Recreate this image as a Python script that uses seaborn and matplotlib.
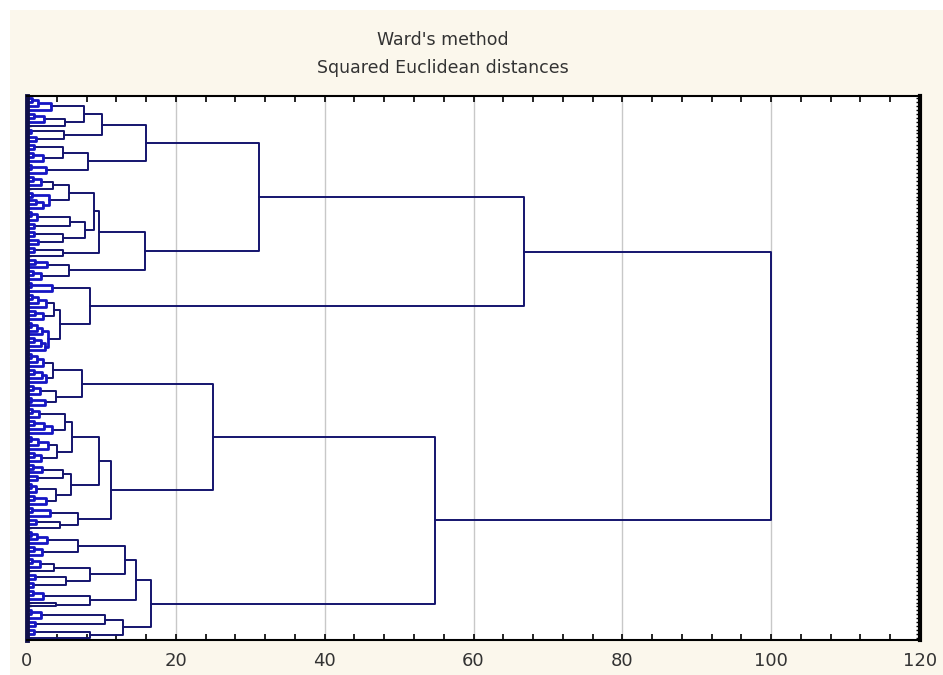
import pandas as pd
import matplotlib
matplotlib.use('Agg')
import matplotlib.pyplot as plt
from matplotlib.patches import Rectangle
import seaborn as sns

# merge heights (Ward, squared euclidean)
# a tuple is (height, upper branch, lower branch)
# a list is a small run of leaves, one merge height per extra leaf
a1 = (16.0,
      (10.1, (7.7, [0.7, 1.5, 3.2], [0.9, 2.3, 5.1]), (5.0, [0.6], [1.2])),
      (8.2, (4.9, [1.0], [0.8, 2.2]), [0.5, 2.6]))
a2 = (15.8,
      (9.7,
       (9.0,
        (5.6, [0.8, 1.9, 3.5], (3.0, [0.7], [1.2, 2.1])),
        (7.8, (5.8, [0.6, 1.4], [1.0]), (4.9, [0.9], [1.5]))),
       [0.9, 4.9]),
      (5.6, [1.1, 2.7], [0.8, 1.9]))
b = (8.4, [0.6, 3.3],
     (4.4, (3.6, [0.7, 1.5, 2.6], [1.1, 2.2]), (2.8, [0.5, 1.3, 2.0], [1.0, 1.9, 2.4])))
c1 = (7.4, (3.5, [0.6, 1.3, 2.1], [0.9, 2.0, 2.6]), (3.9, [0.8, 1.7], [0.5, 2.4]))
c2 = (11.3,
      (9.7,
       (6.1, (5.1, [0.7, 1.6], [1.0, 2.3, 3.4]), (4.0, [0.6, 1.5, 2.8], [0.9, 1.9])),
       (5.9, (4.9, [0.8, 2.0], [1.3]), (3.9, [0.6, 1.2], [1.0, 2.5]))),
      (6.9, [0.7, 3.1], [1.2, 4.5]))
d = (16.6,
     (14.6,
      (13.2, (6.9, [0.6, 1.4, 2.7], [0.9, 2.0]), (8.5, [0.7, 1.8, 3.6], (5.2, [1.1], [0.8]))),
      (8.4, [0.8, 2.1], [3.9])),
     (12.9, (10.5, [0.6, 1.9], [1.1]), [0.9, 8.5]))

# top of the tree
a_h, top_h, c_h, bottom_h, root_h = 31.2, 66.8, 25.0, 54.8, 100.0
tree = (root_h, (top_h, (a_h, a1, a2), b), (bottom_h, (c_h, c1, c2), d))

xticks = [0, 20, 40, 60, 80, 100, 120]

segs = []


def place(node, start):
    # returns position, height and next free leaf slot
    if isinstance(node, list):
        pos, h = start, 0.0
        for k, mh in enumerate(node):
            leaf = start + k + 1
            segs.append((mh, [(h, pos), (mh, pos), (mh, leaf), (0.0, leaf)]))
            pos, h = (pos + leaf) / 2, mh
        return pos, h, start + len(node) + 1
    hgt, up, low = node
    p1, h1, s = place(up, start)
    p2, h2, s = place(low, s)
    segs.append((hgt, [(h1, p1), (hgt, p1), (hgt, p2), (h2, p2)]))
    return (p1 + p2) / 2, hgt, s


_, _, n_leaves = place(tree, 0)

rows = []
for i, (mh, pts) in enumerate(segs):
    lvl = 'low' if mh < 3.5 else 'high'
    for x, y in pts:
        rows.append({'seg': i, 'x': x, 'y': y, 'level': lvl})
df = pd.DataFrame(rows)

sns.set_style('white')
fig = plt.figure(figsize=(9.43, 6.75), dpi=100, facecolor='white')
fig.patches.append(Rectangle((0.011, 0), 0.989, 1 - 10 / 675, transform=fig.transFigure,
                             facecolor='#fbf7ec', edgecolor='none', zorder=-10))
ax = fig.add_axes([27 / 943, 35 / 675, 893 / 943, 544 / 675])
ax.set_facecolor('white')

sns.lineplot(data=df[df.level == 'high'], x='x', y='y', units='seg', estimator=None, sort=False,
             color='#14146e', linewidth=1.4, ax=ax)
sns.lineplot(data=df[df.level == 'low'], x='x', y='y', units='seg', estimator=None, sort=False,
             color='#1616c4', linewidth=2.0, ax=ax)

ax.set_xlim(0, 120)
ax.set_ylim(n_leaves - 0.5, -0.5)
ax.set_xticks(xticks)
ax.set_xticks(range(0, 121, 4), minor=True)
ax.set_xticklabels([str(t) for t in xticks])
ax.set_yticks(range(n_leaves))
ax.set_yticklabels([])
ax.set_xlabel('')
ax.set_ylabel('')
ax.grid(axis='x', which='major', color='#c8c8c8', linewidth=1)
ax.set_axisbelow(True)
ax.tick_params(axis='x', which='both', direction='in', top=True, bottom=True,
               length=4, width=1.2, color='black', labelsize=13, labelcolor='#333333', pad=9)
ax.tick_params(axis='y', direction='in', left=True, right=True, length=3, width=1, color='black')
for side, sp in ax.spines.items():
    sp.set_color('black')
    sp.set_linewidth(1.5)
ax.spines['right'].set_linewidth(3)
ax.spines['left'].set_color('#10104a')
ax.spines['left'].set_linewidth(3.5)

fig.text(0.47, 1 - 40 / 675, "Ward's method", ha='center', va='center', fontsize=12.5, color='#333333')
fig.text(0.47, 1 - 68 / 675, 'Squared Euclidean distances', ha='center', va='center',
         fontsize=12.5, color='#333333')

fig.savefig('out.png', dpi=100, facecolor=fig.get_facecolor())
